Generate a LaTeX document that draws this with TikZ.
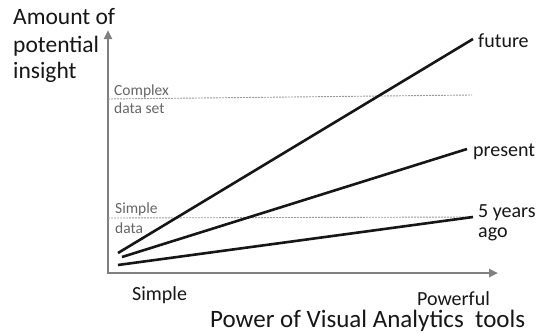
\documentclass[tikz,border=0pt]{standalone}
\usepackage{fontspec}
\setmainfont{Carlito}
\usetikzlibrary{arrows.meta}
\definecolor{axisgray}{HTML}{808080}
\definecolor{dashgray}{HTML}{9A9A9A}
\definecolor{labelgray}{HTML}{666666}
\definecolor{ink}{HTML}{161616}
\begin{document}
\begin{tikzpicture}[x=1pt,y=-1pt,
  axis/.style={draw=axisgray,line width=2.6pt,{Triangle[length=9pt,width=8pt]}-{Triangle[length=9pt,width=8pt]}},
  level/.style={draw=dashgray,line width=0.9pt,dash pattern=on 2pt off 1pt},
  trend/.style={draw=ink,line width=2.6pt},
  lbl/.style={anchor=base west,inner sep=0pt,text=ink},
  big/.style={lbl,font=\fontsize{23.5}{27}\selectfont},
  mid/.style={lbl,font=\fontsize{20}{24}\selectfont},
  small/.style={lbl,text=labelgray,font=\fontsize{15.5}{18}\selectfont}]
\useasboundingbox (0,0) rectangle (538,335);
\fill[white] (0,0) rectangle (538,335);
% axes
\coordinate (O) at (108,273);
\coordinate (ytop) at (108,30);
\coordinate (xend) at (498,273);
\draw[axis] (ytop) -- (O) -- (xend);
% level lines
\coordinate (c1) at (108,99);
\coordinate (c2) at (472,95);
\coordinate (s1) at (108,218);
\coordinate (s2) at (472,217);
\draw[level] (c1) -- (c2);
\draw[level] (s1) -- (s2);
% trend lines
\coordinate (f1) at (118,253);
\coordinate (f2) at (473,39);
\coordinate (p1) at (122,257);
\coordinate (p2) at (467,149);
\coordinate (y1) at (118,265);
\coordinate (y2) at (473,217);
\draw[trend] (f1) -- (f2);
\draw[trend] (p1) -- (p2);
\draw[trend] (y1) -- (y2);
% y axis title
\node[big] (t1) at (13,24) {Amount of};
\node[big] (t2) at (13,52) {potential};
\node[big] (t3) at (13,78) {insight};
% level labels
\node[small] (cx1) at (114,95) {Complex};
\node[small] (cx2) at (114,113) {data set};
\node[small] (sd1) at (115,213) {Simple};
\node[small] (sd2) at (115,233) {data};
% line labels
\node[mid] (lf) at (478,47) {future};
\node[mid] (lp) at (473,156) {present};
\node[mid] (l5a) at (478,217) {5 years};
\node[mid] (l5b) at (478,237) {ago};
% x axis labels
\node[mid] (xs) at (132,300) {Simple};
\node[mid] (xp) at (417,305) {Powerful};
\node[lbl,font=\fontsize{25}{29}\selectfont] (xt) at (210,327) {Power of Visual Analytics\ \ tools};
\end{tikzpicture}
\end{document}
